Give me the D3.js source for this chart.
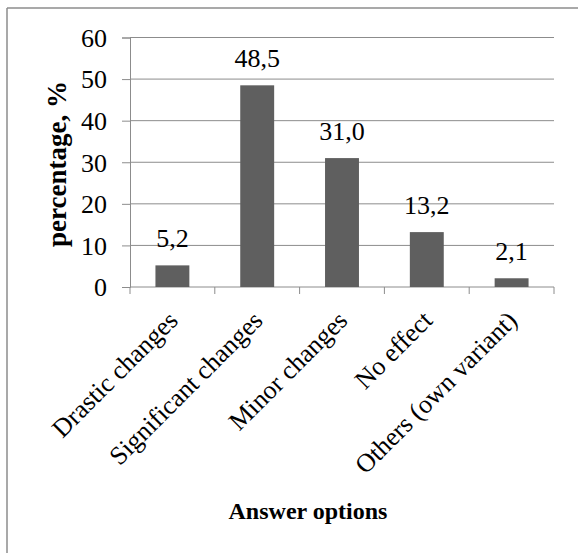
<!DOCTYPE html>
<html lang="en">
<head>
  <meta charset="UTF-8">
  <title>Answer options</title>
  <script src="https://d3js.org/d3.v7.min.js"></script>
  <style>
    body { margin: 0; background: #fff; }
    svg { display: block; }
    svg text { font-family: "Liberation Serif", "Times New Roman", serif; fill: #000; }
  </style>
</head>
<body>
<svg></svg>
<script>
  const categories = ["Drastic changes", "Significant changes", "Minor changes", "No effect", "Others (own variant)"];
  const values = [5.2, 48.5, 31.0, 13.2, 2.1];
  const yTicks = [0, 10, 20, 30, 40, 50, 60];

  const width = 578, height = 553;
  const plotLeft = 130, plotRight = 554, plotTop = 37.5, plotBottom = 287;
  const serif = "Liberation Serif, Times New Roman, serif";

  const svg = d3.select("svg")
    .attr("width", width)
    .attr("height", height);

  // Rahmen (nur oben und links sichtbar)
  svg.append("line").attr("x1", 7).attr("x2", width).attr("y1", 8).attr("y2", 8)
    .attr("stroke", "#8c8c8c").attr("stroke-width", 1.5);
  svg.append("line").attr("x1", 7).attr("x2", 7).attr("y1", 8).attr("y2", height)
    .attr("stroke", "#8c8c8c").attr("stroke-width", 1.5);

  const x = d3.scaleBand().domain(categories).range([plotLeft, plotRight]).paddingInner(0.6).paddingOuter(0.3);
  const y = d3.scaleLinear().domain([0, 60]).range([plotBottom, plotTop]);

  // Gitterlinien
  svg.append("g").selectAll("line")
    .data(yTicks.filter(d => d > 0))
    .join("line")
    .attr("x1", plotLeft).attr("x2", plotRight)
    .attr("y1", d => y(d)).attr("y2", d => y(d))
    .attr("stroke", "#8c8c8c").attr("stroke-width", 1);

  // y-Achse
  const yAxis = svg.append("g")
    .attr("transform", `translate(${plotLeft},0)`)
    .call(d3.axisLeft(y).tickValues(yTicks).tickSize(8).tickPadding(15))
    .attr("font-family", serif);
  yAxis.select(".domain").attr("stroke", "#8c8c8c");
  yAxis.selectAll(".tick line").attr("stroke", "#8c8c8c");
  yAxis.selectAll("text").attr("font-size", "26px").attr("fill", "#000")
    .attr("font-family", serif).attr("dy", "0.34em");

  // x-Achse mit Trennstrichen zwischen Kategorien
  const edges = d3.range(categories.length + 1).map(i => plotLeft + i * (plotRight - plotLeft) / categories.length);
  svg.append("line").attr("x1", plotLeft).attr("x2", plotRight).attr("y1", plotBottom).attr("y2", plotBottom)
    .attr("stroke", "#8c8c8c");
  svg.append("g").selectAll("line")
    .data(edges)
    .join("line")
    .attr("x1", d => d).attr("x2", d => d)
    .attr("y1", plotBottom).attr("y2", plotBottom + 7)
    .attr("stroke", "#8c8c8c");

  // Balken
  svg.append("g").selectAll("rect")
    .data(values)
    .join("rect")
    .attr("x", (d, i) => x(categories[i]))
    .attr("width", x.bandwidth())
    .attr("y", d => y(d))
    .attr("height", d => plotBottom - y(d))
    .attr("fill", "#5f5f5f");

  // Werte
  svg.append("g").selectAll("text")
    .data(values)
    .join("text")
    .attr("x", (d, i) => x(categories[i]) + x.bandwidth() / 2)
    .attr("y", d => y(d) - 18)
    .attr("text-anchor", "middle")
    .attr("font-family", serif)
    .attr("font-size", "26px")
    .text(d => d.toFixed(1).replace(".", ","));

  // Kategorien (gedreht)
  svg.append("g").selectAll("text")
    .data(categories)
    .join("text")
    .attr("transform", d => `translate(${x(d) + x.bandwidth() / 2 + 7},${plotBottom + 35}) rotate(-45)`)
    .attr("text-anchor", "end")
    .attr("font-family", serif)
    .attr("font-size", "26px")
    .text(d => d);

  // Achsentitel
  svg.append("text")
    .attr("transform", "translate(66,164) rotate(-90)")
    .attr("text-anchor", "middle")
    .attr("font-family", serif)
    .attr("font-size", "27px")
    .attr("font-weight", "bold")
    .text("percentage, %");

  svg.append("text")
    .attr("x", 308)
    .attr("y", 519)
    .attr("text-anchor", "middle")
    .attr("font-family", serif)
    .attr("font-size", "24px")
    .attr("font-weight", "bold")
    .text("Answer options");
</script>
</body>
</html>
